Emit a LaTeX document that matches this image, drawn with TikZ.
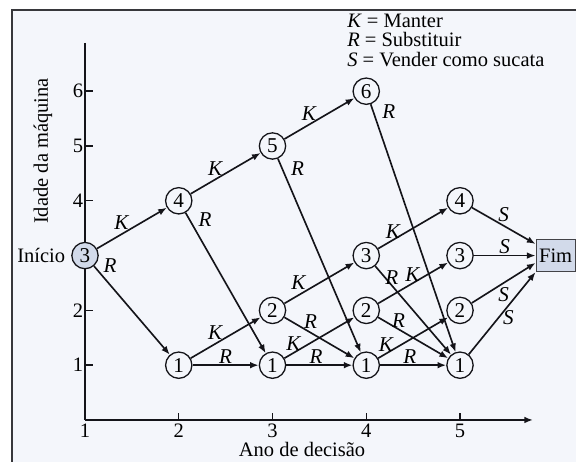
\documentclass[tikz,border=0pt]{standalone}
\usepackage{fontspec}
\setmainfont{Liberation Serif}
\usetikzlibrary{positioning,arrows.meta}
\definecolor{pgbg}{RGB}{244,246,251}
\definecolor{pgblue}{RGB}{210,218,234}
\definecolor{pgink}{RGB}{20,20,25}

\begin{document}
\begin{tikzpicture}[
  x=2.8125cm, y=1.644cm,
  font=\fontsize{17.5}{19}\selectfont,
  >={Latex[length=2.6mm,width=2mm]},
  state/.style={circle, draw=pgink, line width=1.1pt, fill=pgbg,
                minimum size=7.9mm, inner sep=0pt, font=\fontsize{18}{19}\selectfont},
  goal/.style={rectangle, draw=pgink!80, line width=1pt, fill=pgblue,
               minimum width=11.7mm, minimum height=9.6mm, inner sep=1pt},
  edge/.style={->, draw=pgink, line width=1.4pt},
  lbl/.style={font=\fontsize{18}{19}\selectfont\itshape, inner sep=1pt},
  axis/.style={draw=pgink, line width=1.8pt},
]

% ==================== frame & canvas ====================
\useasboundingbox (0.0933,-0.766) rectangle (6.2373,7.664);
\fill[pgbg] (0.2213,-0.766) rectangle (6.2373,7.482);
\draw[pgink!85, line width=1.8pt] (0.2213,-0.766) -- (0.2213,7.482) -- (6.2373,7.482);

% ==================== axes ====================
\draw[axis] (1,6.88) -- (1,0) coordinate (o);
\draw[axis, ->] (o) -- (5.779,0);
\foreach \a in {1,2,4,5,6} {
  \draw[axis, line width=1.2pt] (1,\a) -- ++(7pt,0);
  \node[left, inner sep=1.5pt] (ya\a) at (1,\a) {\a};
}
\foreach \t in {2,...,5}
  \draw[axis, line width=1.2pt] (\t,0) -- ++(0,6pt);
\foreach \t in {1,...,5}
  \node[below=2pt, inner sep=1pt] (xt\t) at (\t,0) {\t};

\node[rotate=90] (ylab) at (0.552,4.909) {Idade da máquina};
\node (xlab) at (3.315,-0.54) {Ano de decisão};

% ==================== legend ====================
\node[anchor=north west, align=left, inner sep=0pt,
      font=\fontsize{17.5}{17}\selectfont] (key) at (3.795,7.42)
  {\textit{K} = Manter\\ \textit{R} = Substituir\\ \textit{S} = Vender como sucata};

% ==================== states (year, age) ====================
\node[state, fill=pgblue] (s13) at (1,3) {3};
\node[left=4pt of s13, inner sep=1pt] (ini) {Início};
\node[state] (s24) at (2,4) {4};
\node[state] (s21) at (2,1) {1};
\node[state] (s35) at (3,5) {5};
\node[state] (s32) at (3,2) {2};
\node[state] (s31) at (3,1) {1};
\node[state] (s46) at (4,6) {6};
\node[state] (s43) at (4,3) {3};
\node[state] (s42) at (4,2) {2};
\node[state] (s41) at (4,1) {1};
\node[state] (s54) at (5,4) {4};
\node[state] (s53) at (5,3) {3};
\node[state] (s52) at (5,2) {2};
\node[state] (s51) at (5,1) {1};
\node[goal] (fim) at (6.02,3) {Fim};

% ==================== year 1 ====================
\draw[edge] (s13) -- node[lbl, pos=0.35, above=2pt] {K} (s24);
\draw[edge] (s13) -- node[lbl, pos=0.1, above right=0pt] {R} (s21);

% ==================== year 2 ====================
\draw[edge] (s24) -- node[lbl, pos=0.35, above=2pt] {K} (s35);
\draw[edge] (s24) -- node[lbl, pos=0.05, right=6pt] {R} (s31);
\draw[edge] (s21) -- node[lbl, pos=0.35, above=2pt] {K} (s32);
\draw[edge] (s21) -- node[lbl, pos=0.5, above] {R} (s31);

% ==================== year 3 ====================
\draw[edge] (s35) -- node[lbl, pos=0.35, above=2pt] {K} (s46);
\draw[edge] (s35) -- node[lbl, pos=0.05, right=6pt] {R} (s41);
\draw[edge] (s32) -- node[lbl, pos=0.2, above=3pt] {K} (s43);
\draw[edge] (s32) -- node[lbl, pos=0.375, above=2pt] {R} (s41);
\draw[edge] (s31) -- node[lbl, pos=0.13, above] {K} (s42);
\draw[edge] (s31) -- node[lbl, pos=0.45, above] {R} (s41);

% ==================== year 4 ====================
\draw[edge] (s46) -- node[lbl, pos=0.03, right=6pt] {R} (s51);
\draw[edge] (s43) -- node[lbl, pos=0.21, above] {K} (s54);
\draw[edge] (s43) -- node[lbl, pos=0.22, above=-1pt] {R} (s51);
\draw[edge] (s42) -- node[lbl, pos=0.49, above] {K} (s53);
\draw[edge] (s42) -- node[lbl, pos=0.29, above] {R} (s51);
\draw[edge] (s41) -- node[lbl, pos=0.11, above] {K} (s52);
\draw[edge] (s41) -- node[lbl, pos=0.45, above] {R} (s51);

% ==================== year 5 : sell ====================
\draw[edge] (s54) -- node[lbl, pos=0.5, above=2pt] {S} (fim.150);
\draw[edge] (s53) -- node[lbl, pos=0.5, above] {S} (fim.west);
\draw[edge] (s52) -- node[lbl, pos=0.5, below=2pt] {S} (fim.200);
\draw[edge] (s51) -- node[lbl, pos=0.45, right=2pt] {S} (fim.south west);

\end{tikzpicture}
\end{document}
